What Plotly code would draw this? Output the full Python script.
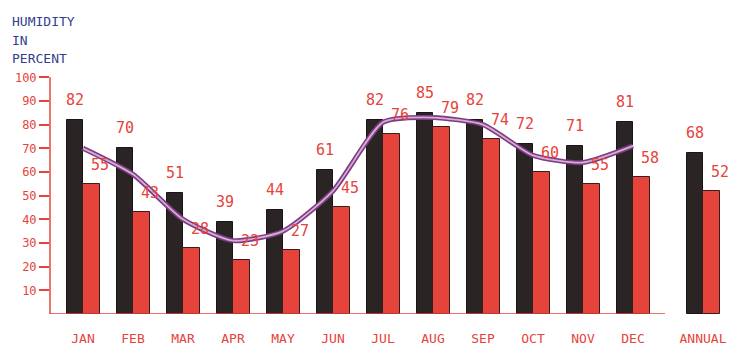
import plotly.graph_objects as go

# Monthly relative humidity (percent): morning vs afternoon readings
months = ["JAN", "FEB", "MAR", "APR", "MAY", "JUN", "JUL", "AUG", "SEP", "OCT", "NOV", "DEC", "ANNUAL"]
humidity_high = [82, 70, 51, 39, 44, 61, 82, 85, 82, 72, 71, 81, 68]
humidity_low = [55, 43, 28, 23, 27, 45, 76, 79, 74, 60, 55, 58, 52]
# Smoothed mean curve across the twelve months
mean_curve = [70, 59, 40, 31, 35, 52, 81, 83, 80, 67, 64, 71]
y_ticks = [10, 20, 30, 40, 50, 60, 70, 80, 90, 100]

RED = "#e6433b"
DARK = "#2a2425"
BLUE = "#33408e"
MONO = "DejaVu Sans Mono, monospace"

# month slots sit one unit apart; the annual pair is set apart with a wider gap
pos = list(range(12)) + [12.4]
half = 0.165
bar_w = 0.33

fig = go.Figure()
fig.add_trace(go.Bar(
    x=[p - half for p in pos], y=humidity_high, width=bar_w,
    marker=dict(color=DARK, line=dict(color="#1a1414", width=1)),
    hoverinfo="y", showlegend=False,
))
fig.add_trace(go.Bar(
    x=[p + half for p in pos], y=humidity_low, width=bar_w,
    marker=dict(color=RED, line=dict(color="#3b1c1c", width=1)),
    hoverinfo="y", showlegend=False,
))

# double-stroked mean curve: dark purple body with a pale core
fig.add_trace(go.Scatter(
    x=pos[:12], y=mean_curve, mode="lines",
    line=dict(color="#7e3a82", width=5, shape="spline", smoothing=0.6),
    hoverinfo="skip", showlegend=False,
))
fig.add_trace(go.Scatter(
    x=pos[:12], y=mean_curve, mode="lines",
    line=dict(color="#d4aed4", width=1.8, shape="spline", smoothing=0.6),
    hoverinfo="skip", showlegend=False,
))

annotations = []
for p, v in zip(pos, humidity_high):
    annotations.append(dict(
        x=p - half, y=v, text=str(v), showarrow=False, xref="x", yref="y",
        yanchor="middle", yshift=20, font=dict(family=MONO, size=15, color=RED),
    ))
for p, v in zip(pos, humidity_low):
    annotations.append(dict(
        x=p + half, y=v, text=str(v), showarrow=False, xref="x", yref="y",
        yanchor="middle", yshift=19, xshift=9, font=dict(family=MONO, size=15, color=RED),
    ))

# axis title, three stacked lines in the upper-left corner
for txt, top in [("HUMIDITY", 12), ("IN", 31), ("PERCENT", 49)]:
    annotations.append(dict(
        x=10, y=top, text=txt, showarrow=False,
        xref="paper", yref="paper", xanchor="left", yanchor="top",
        font=dict(family=MONO, size=13, color=BLUE),
    ))

# convert the pixel placements of the title lines to paper coordinates
W, H = 730, 347
ML, MR, MT, MB = 50, 0, 54, 33
pw, ph = W - ML - MR, H - MT - MB
for a in annotations[-3:]:
    a["x"] = (a["x"] - ML) / pw
    a["y"] = (H - MB - a["y"]) / ph

shapes = [
    # vertical value axis from 0 to 100
    dict(type="line", xref="paper", yref="y", x0=0, x1=0, y0=0, y1=100,
         line=dict(color=RED, width=1.5)),
    # baseline under the monthly bars
    dict(type="line", xref="x", yref="y", x0=-0.66, x1=11.64, y0=0, y1=0,
         line=dict(color=RED, width=1.5)),
]

fig.update_layout(
    width=W, height=H,
    margin=dict(l=ML, r=MR, t=MT, b=MB, pad=0),
    paper_bgcolor="white", plot_bgcolor="white",
    barmode="overlay", bargap=0,
    annotations=annotations, shapes=shapes,
    xaxis=dict(
        range=[-0.66, 12.94], tickvals=pos, ticktext=months,
        ticks="outside", ticklen=12, tickcolor="rgba(0,0,0,0)",
        tickfont=dict(family=MONO, size=13, color=RED),
        showgrid=False, zeroline=False, showline=False,
    ),
    yaxis=dict(
        range=[0, 109.85], tickvals=y_ticks,
        ticks="outside", ticklen=10, tickwidth=1.5, tickcolor=RED,
        tickfont=dict(family=MONO, size=12, color=RED),
        showgrid=False, zeroline=False, showline=False,
    ),
)

fig.write_html("out.html")
